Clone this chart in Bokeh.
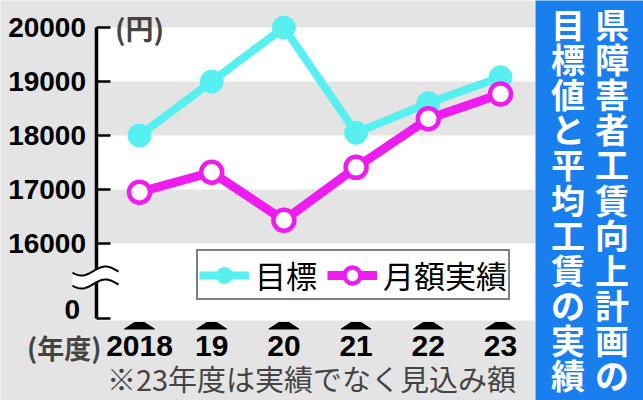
import numpy as np
from bokeh.plotting import figure
from bokeh.models import (Range1d, FixedTicker, Label, Legend, LegendItem,
                          LinearAxis)
from bokeh.layouts import row
from bokeh.core.properties import value
from bokeh.embed import file_html
from bokeh.resources import INLINE

# ---------------- data ----------------
years = ["2018", "19", "20", "21", "22", "23"]
target = [18000, 19000, 20000, 18050, 18600, 19080]   # 目標
actual = [16950, 17320, 16430, 17410, 18310, 18770]   # 月額実績
y_ticks = [16000, 17000, 18000, 19000, 20000]
zero_label = "0"
unit_label = "(円)"
year_unit = "(年度)"
note = "※23年度は実績でなく見込み額"
legend_labels = ["目標", "月額実績"]
title_right = list("県障害者工賃向上計画の")
title_left = list("目標値と平均工賃の実績")

# ---------------- styles ----------------
CYAN = "#58eff0"
MAGENTA = "#ee1cee"
GRAY = "#e4e4e4"
BLUE = "#1a7fee"
JP = "Noto Sans CJK JP"
NUM = "Liberation Sans"

# page geometry (px) used to set up the scales
W, H = 535, 400
X0, DX = 139, 72.2          # px of first category, spacing
Y20, PPK = 27, 54.0         # px of 20000, px per 1000


def dx(px):
    return (px - X0) / DX


def dy(py):
    return 20000 - (py - Y20) / PPK * 1000


xs = list(range(len(years)))
zero_tick = dy(318)
zero_lab = dy(309)

p = figure(width=W, height=H, output_backend="svg", toolbar_location=None,
           x_range=Range1d(dx(0), dx(W)), y_range=Range1d(dy(H), dy(0)),
           min_border=0)
p.background_fill_color = GRAY
p.border_fill_color = GRAY
p.outline_line_color = None
p.grid.visible = False

# white bands
band_bottom = [19000, 17000, dy(320)]
band_top = [20000, 18000, 16000]
p.quad(left=dx(97), right=dx(W) + 1, bottom=band_bottom, top=band_top,
       fill_color="white", line_color=None)

# x tick "hats"
hx, hy = [], []
for i in xs:
    hx.append([i - 15 / DX, i - 5 / DX, i + 5 / DX, i + 15 / DX])
    hy.append([dy(328.5), dy(322), dy(322), dy(328.5)])
p.patches(hx, hy, fill_color="black", line_color="black", line_width=1)

# series
l1 = p.line(xs, target, line_width=8, color=CYAN)
s1 = p.scatter(xs, target, size=23, fill_color=CYAN, line_color=CYAN)
l2 = p.line(xs, actual, line_width=9, color=MAGENTA)
s2 = p.scatter(xs, actual, size=21, fill_color="white", line_color=MAGENTA,
               line_width=4.5)

# y axis (ticks + labels)
ya = p.yaxis[0]
ya.fixed_location = dx(95.5)
ya.ticker = FixedTicker(ticks=[zero_tick] + y_ticks)
ya.major_label_overrides = {zero_tick: ""}
ya.bounds = (zero_tick, 20000)
ya.axis_line_width = 3.5
ya.axis_line_color = "black"
ya.major_tick_in = 14
ya.major_tick_out = 0
ya.major_tick_line_width = 2.5
ya.minor_tick_line_color = None
ya.major_label_text_font = NUM
ya.major_label_text_font_style = "bold"
ya.major_label_text_font_size = "28px"
ya.major_label_text_color = "black"
ya.major_label_standoff = 10

# second y axis: only the "0" label (sits just above the 0 tick)
ya0 = LinearAxis(fixed_location=dx(95.5), ticker=FixedTicker(ticks=[zero_lab]),
                 major_label_overrides={zero_lab: zero_label})
ya0.axis_line_color = None
ya0.major_tick_line_color = None
ya0.minor_tick_line_color = None
ya0.major_label_text_font = NUM
ya0.major_label_text_font_style = "bold"
ya0.major_label_text_font_size = "28px"
ya0.major_label_text_color = "black"
ya0.major_label_standoff = 10
p.add_layout(ya0, "left")

# x axis
xa = p.xaxis[0]
xa.fixed_location = dy(320)
xa.ticker = FixedTicker(ticks=xs)
xa.major_label_overrides = {i: y for i, y in zip(xs, years)}
xa.axis_line_color = None
xa.major_tick_line_color = None
xa.minor_tick_line_color = None
xa.major_label_text_font = NUM
xa.major_label_text_font_style = "bold"
xa.major_label_text_font_size = "30px"
xa.major_label_text_color = "black"
xa.major_label_standoff = 9

# axis break (drawn above the axis)
t = np.linspace(72, 118, 40)
up = 270.5 - 4.5 * np.cos(2 * np.pi * (t - 105) / 48)
lo = up + 13
tx = [dx(v) for v in t]
p.varea(x=tx, y1=[dy(v) for v in up - 1], y2=[dy(v) for v in lo + 1],
        fill_color="white", level="overlay")
for w in (up, lo):
    p.line(tx, [dy(v) for v in w], line_color="black", line_width=2,
           level="overlay")

# labels
p.add_layout(Label(x=0, y=20000, text=unit_label, text_font=JP,
                   text_font_style="bold", text_font_size="28px",
                   text_align="center", text_baseline="middle"))
p.add_layout(Label(x=dx(101), y=dy(347), text=year_unit, text_font=JP,
                   text_font_style="bold", text_font_size="27px",
                   text_align="right", text_baseline="middle"))
p.add_layout(Label(x=dx(311), y=dy(377), text=note, text_font=JP,
                   text_font_size="29px", text_align="center",
                   text_baseline="middle"))

# legend
legend = Legend(items=[LegendItem(label=legend_labels[0], renderers=[l1, s1]),
                       LegendItem(label=legend_labels[1], renderers=[l2, s2])],
                orientation="horizontal", location=(196, H - 300))
legend.border_line_color = "black"
legend.border_line_width = 2
legend.background_fill_color = "white"
legend.background_fill_alpha = 1
legend.label_text_font = JP
legend.label_text_font_size = "31px"
legend.label_text_color = "black"
legend.glyph_width = 50
legend.glyph_height = 40
legend.label_standoff = 6
legend.spacing = 10
legend.padding = 1
legend.margin = 0
p.add_layout(legend)

# title panel
p2 = figure(width=643 - W, height=H, output_backend="svg", toolbar_location=None,
            x_range=Range1d(0, 643 - W), y_range=Range1d(H, 0),
            min_border=0, x_axis_type=None, y_axis_type=None)
p2.background_fill_color = BLUE
p2.border_fill_color = BLUE
p2.outline_line_color = None
p2.grid.visible = False
n = len(title_right)
ys_t = [23 + 35.1 * i for i in range(n)]
p2.text(x=[76.5] * n, y=ys_t, text=title_right, text_font=value(JP),
        text_font_style="bold", text_font_size="34px", text_color="white",
        text_align="center", text_baseline="middle")
p2.text(x=[32.5] * n, y=ys_t, text=title_left, text_font=value(JP),
        text_font_style="bold", text_font_size="34px", text_color="white",
        text_align="center", text_baseline="middle")

layout = row(p, p2)
open("out.html", "w").write(file_html(layout, INLINE))
